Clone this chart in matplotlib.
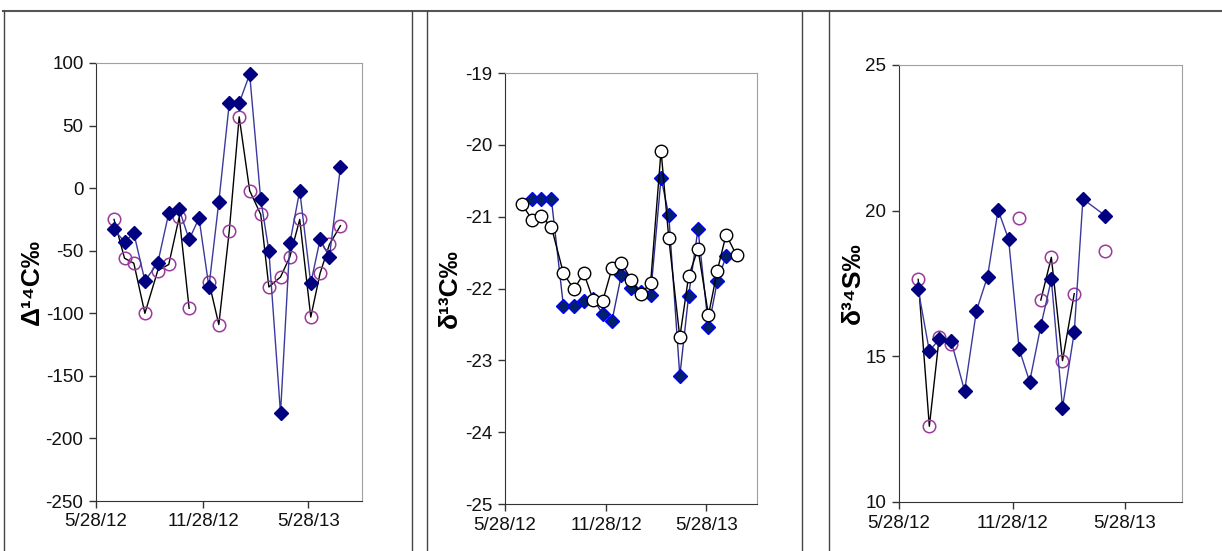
import numpy as np
import matplotlib
matplotlib.use('Agg')
import matplotlib.pyplot as plt
import matplotlib.dates as mdates
from matplotlib.lines import Line2D
from datetime import datetime

plt.rcParams['font.family'] = ['Liberation Sans', 'DejaVu Sans']
plt.rcParams['axes.unicode_minus'] = False

nan = np.nan

# sampling dates (shared by the three panels)
dates = ['2012-06-28', '2012-07-16', '2012-08-01', '2012-08-20', '2012-09-11',
         '2012-09-30', '2012-10-18', '2012-11-04', '2012-11-21', '2012-12-08',
         '2012-12-25', '2013-01-12', '2013-01-29', '2013-02-16', '2013-03-07',
         '2013-03-21', '2013-04-10', '2013-04-26', '2013-05-13', '2013-06-01',
         '2013-06-17', '2013-07-03', '2013-07-22']

# D14C
d14c_a = [-33, -43, -36, -74, -60, -20, -17, -41, -24, -79, -11, 68, 68, 91,
          -9, -50, -180, -44, -2, -76, -41, -55, 17]
d14c_b = [-25, -56, -60, -100, -66, -61, -23, -96, nan, -75, -109, -34, 57,
          -2, -21, -79, -71, -55, -25, -103, -68, -45, -30]

# d13C
d13c_a = [nan, -20.75, -20.75, -20.75, -22.25, -22.25, -22.17, -22.15, -22.35,
          -22.45, -21.81, -21.99, -22.05, -22.09, -20.46, -20.98, -23.22, -22.10,
          -21.17, -22.54, -21.90, -21.55, nan]
d13c_b = [-20.83, -21.04, -20.99, -21.14, -21.79, -22.01, -21.79, -22.16, -22.18,
          -21.72, -21.64, -21.88, -22.07, -21.93, -20.08, -21.30, -22.68, -21.83,
          -21.45, -22.37, -21.75, -21.25, -21.54]

# d34S
d34s_a = [17.30, 15.18, 15.59, 15.54, 13.81, 16.56, 17.74, 20.02, 19.02, 15.25,
          14.13, 16.04, 17.64, 13.24, 15.83, 20.40, nan, 19.83, nan, nan, nan, nan, nan]
d34s_b = [17.64, 12.60, 15.67, 15.42, nan, nan, nan, nan, nan, 19.74, nan, 16.93,
          18.40, 14.85, 17.15, nan, nan, 18.63, nan, nan, nan, nan, nan]

x = [datetime.strptime(d, '%Y-%m-%d') for d in dates]
xticks = [datetime(2012, 5, 28), datetime(2012, 11, 28), datetime(2013, 5, 28)]
xlim = (datetime(2012, 5, 28), datetime(2013, 8, 28))

fig = plt.figure(figsize=(12.22, 5.51), dpi=100)

W, H = 1222.0, 551.0

def axes_px(l, r, t, b):
    return fig.add_axes([l / W, (H - b) / H, (r - l) / W, (b - t) / H])

# panel frames
fig.add_artist(Line2D([3 / W, 1], [1 - 11 / H] * 2, color='#555555', lw=1.5))
for xp in [4, 412, 427, 802, 829]:
    fig.add_artist(Line2D([xp / W] * 2, [0, 1 - 11 / H], color='#444444', lw=1))


def style(ax, ylim, yticks, label, lx):
    ax.set_xlim(xlim)
    ax.set_ylim(ylim)
    ax.set_yticks(yticks)
    ax.set_xticks(xticks)
    ax.xaxis.set_major_formatter(mdates.DateFormatter('%-m/%-d/%y'))
    for s in ['top', 'right']:
        ax.spines[s].set_color('#a0a0a0')
    for s in ['left', 'bottom']:
        ax.spines[s].set_color('#333333')
    ax.tick_params(direction='out', length=5, width=1, labelsize=13.5,
                   color='#333333', labelcolor='#111111', pad=4)
    ax.set_ylabel(label, fontsize=19, fontweight='bold')
    ax.yaxis.set_label_coords(lx, 0.5)


def connected(xs, ys):
    xs2 = [a for a, b in zip(xs, ys) if not np.isnan(b)]
    ys2 = [b for b in ys if not np.isnan(b)]
    return xs2, ys2

# panel 1
ax1 = axes_px(96, 362, 63, 501)
ax1.plot(x, d14c_b, color='black', lw=1, marker='o', ms=9, mfc='none',
         mec='#9b3a9b', mew=1.1, zorder=3)
ax1.plot(x, d14c_a, color='#3a3a9e', lw=1, marker='D', ms=7.5, mfc='#000080',
         mec='#000080', zorder=4)
style(ax1, (-250, 100), np.arange(-250, 101, 50), '\u0394\u00b9\u2074C\u2030', -0.195)

# panel 2
ax2 = axes_px(505, 757, 73, 504)
ax2.plot(x, d13c_a, color='#2d2d8f', lw=1, marker='D', ms=7, mfc='#00206a',
         mec='#0000ff', mew=1, zorder=3)
ax2.plot(x, d13c_b, color='black', lw=1, marker='o', ms=9, mfc='white',
         mec='black', mew=1, zorder=4)
style(ax2, (-25, -19), np.arange(-25, -18, 1), '\u03b4\u00b9\u00b3C\u2030', -0.17)

# panel 3
ax3 = axes_px(899, 1182, 65, 502)
ax3.plot(x, d34s_b, color='black', lw=1, marker='o', ms=9, mfc='none',
         mec='#9b3a9b', mew=1.1, zorder=3)
xa, ya = connected(x, d34s_a)
ax3.plot(xa, ya, color='#3a3a9e', lw=1, marker='D', ms=7.5, mfc='#000080',
         mec='#000080', zorder=4)
style(ax3, (10, 25), [10, 15, 20, 25], '\u03b4\u00b3\u2074S\u2030', -0.12)

fig.savefig('out.png', dpi=100)
